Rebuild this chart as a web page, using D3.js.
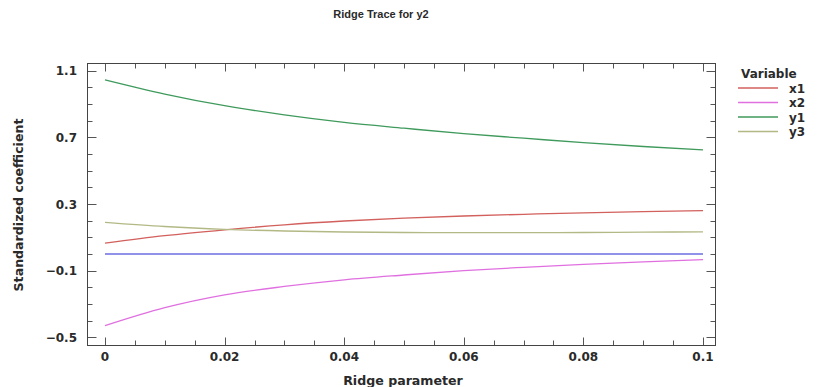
<!DOCTYPE html>
<html>
<head>
<meta charset="utf-8">
<script src="https://cdn.jsdelivr.net/npm/d3@7"></script>
<style>
  body { margin: 0; background: #fff; }
  svg text { font-family: "DejaVu Sans", Verdana, sans-serif; font-weight: bold; fill: #2a2a2a; }
  svg text.title { font-family: "Liberation Sans", Arial, sans-serif; }
</style>
</head>
<body>
<div id="chart"></div>
<script>
// ridge parameter values (k)
var kValues = [0, 0.01, 0.02, 0.03, 0.04, 0.05, 0.06, 0.07, 0.08, 0.09, 0.1];

// standardized coefficients
var x1Values = [0.065, 0.11, 0.145, 0.175, 0.198, 0.215, 0.228, 0.238, 0.247, 0.254, 0.26];
var x2Values = [-0.43, -0.322, -0.245, -0.195, -0.155, -0.126, -0.1, -0.08, -0.062, -0.047, -0.034];
var y1Values = [1.045, 0.96, 0.89, 0.835, 0.79, 0.755, 0.722, 0.695, 0.668, 0.645, 0.625];
var y3Values = [0.19, 0.165, 0.148, 0.138, 0.132, 0.129, 0.128, 0.128, 0.129, 0.131, 0.133];
var zeroValues = [0, 0, 0, 0, 0, 0, 0, 0, 0, 0, 0];

var seriesNames = ["x1", "x2", "y1", "y3"];
var seriesColors = ["#d2605c", "#e070e0", "#3f9a5c", "#b3b985"];

var xTicks = [0, 0.02, 0.04, 0.06, 0.08, 0.1];
var yTicks = [1.1, 0.7, 0.3, -0.1, -0.5];

var width = 820, height = 387;
// frame of the plot area
var frame = { left: 87.5, right: 715.5, top: 63.5, bottom: 345.5 };

var svg = d3.select("#chart").append("svg")
  .attr("width", width)
  .attr("height", height);

var x = d3.scaleLinear().domain([0, 0.1]).range([105, 703]);
var y = d3.scaleLinear().domain([-0.5, 1.1]).range([337.3, 70.7]);

// title
svg.append("text")
  .attr("class", "title")
  .attr("x", 381).attr("y", 18)
  .attr("text-anchor", "middle")
  .style("font-size", "11px")
  .text("Ridge Trace for y2");

// minor / major ticks, inward on all four sides
var xMinor = d3.range(0, 0.1001, 0.005);
var yMinor = d3.range(-0.5, 1.1001, 0.1);
var ticks = svg.append("g").attr("stroke", "#555").attr("stroke-width", 1);

xMinor.forEach(function (v) {
  var major = xTicks.some(function (t) { return Math.abs(t - v) < 1e-9; });
  var len = major ? 8 : 5;
  var px = Math.round(x(v)) + 0.5;
  ticks.append("line").attr("x1", px).attr("x2", px)
    .attr("y1", frame.bottom).attr("y2", frame.bottom - len);
  ticks.append("line").attr("x1", px).attr("x2", px)
    .attr("y1", frame.top).attr("y2", frame.top + len);
});

yMinor.forEach(function (v) {
  var major = yTicks.some(function (t) { return Math.abs(t - v) < 1e-9; });
  var len = major ? 9 : 5;
  var py = Math.round(y(v)) + 0.5;
  ticks.append("line").attr("x1", frame.left).attr("x2", frame.left + len)
    .attr("y1", py).attr("y2", py);
  ticks.append("line").attr("x1", frame.right).attr("x2", frame.right - len)
    .attr("y1", py).attr("y2", py);
});

// frame
svg.append("rect")
  .attr("x", frame.left).attr("y", frame.top)
  .attr("width", frame.right - frame.left)
  .attr("height", frame.bottom - frame.top)
  .attr("fill", "none")
  .attr("stroke", "#444")
  .attr("stroke-width", 1);

// tick labels
svg.append("g").selectAll("text")
  .data(xTicks)
  .enter().append("text")
  .attr("x", function (d) { return x(d); })
  .attr("y", 361)
  .attr("text-anchor", "middle")
  .style("font-size", "12px")
  .text(function (d) { return d3.format("")(d); });

svg.append("g").selectAll("text")
  .data(yTicks)
  .enter().append("text")
  .attr("x", 77)
  .attr("y", function (d) { return y(d) + 4.5; })
  .attr("text-anchor", "end")
  .style("font-size", "12px")
  .text(function (d) { return d3.format("")(d); });

// axis names
svg.append("text")
  .attr("x", 403).attr("y", 385)
  .attr("text-anchor", "middle")
  .style("font-size", "12.6px")
  .text("Ridge parameter");

svg.append("text")
  .attr("transform", "translate(23," + 205 + ") rotate(-90)")
  .attr("text-anchor", "middle")
  .style("font-size", "12.6px")
  .text("Standardized coefficient");

// lines
var line = d3.line()
  .x(function (d) { return x(d[0]); })
  .y(function (d) { return y(d[1]); })
  .curve(d3.curveMonotoneX);

var allSeries = [x1Values, x2Values, y1Values, y3Values];

svg.append("path")
  .datum(d3.zip(kValues, zeroValues))
  .attr("d", line)
  .attr("fill", "none")
  .attr("stroke", "#6a6ee0")
  .attr("stroke-width", 1.6);

allSeries.forEach(function (vals, i) {
  svg.append("path")
    .datum(d3.zip(kValues, vals))
    .attr("d", line)
    .attr("fill", "none")
    .attr("stroke", seriesColors[i])
    .attr("stroke-width", 1.3);
});

// legend
var legend = svg.append("g");
legend.append("text")
  .attr("x", 741).attr("y", 78)
  .style("font-size", "12px")
  .text("Variable");

seriesNames.forEach(function (name, i) {
  var ly = 88 + i * 14.5;
  legend.append("line")
    .attr("x1", 738).attr("x2", 778)
    .attr("y1", ly).attr("y2", ly)
    .attr("stroke", seriesColors[i])
    .attr("stroke-width", 1.3);
  legend.append("text")
    .attr("x", 789).attr("y", ly + 4.5)
    .style("font-size", "12px")
    .text(name);
});
</script>
</body>
</html>
